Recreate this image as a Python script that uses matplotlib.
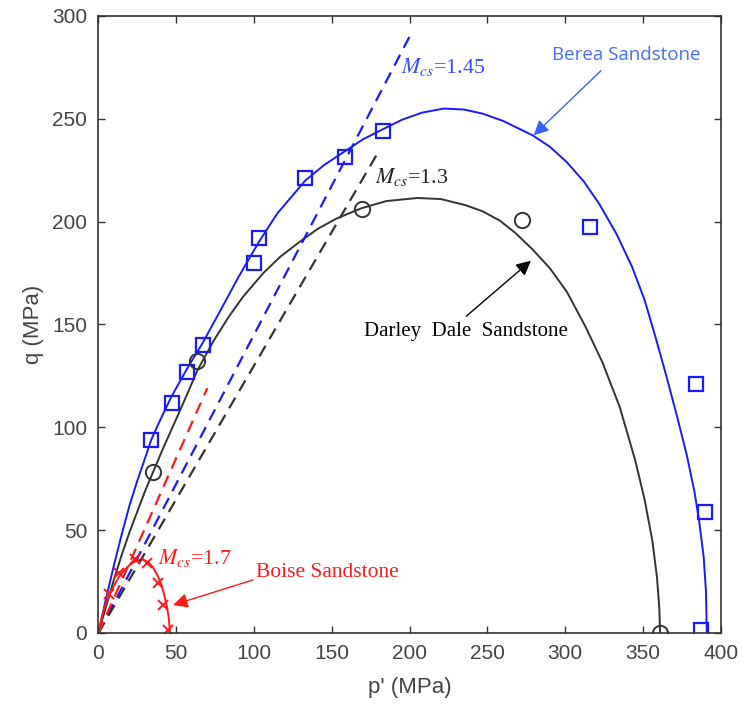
import matplotlib.pyplot as plt

plt.rcParams['mathtext.fontset'] = 'stix'

# test data (p', q) in MPa
berea_p = [34, 47, 57, 67, 100, 103, 133, 158.5, 183, 316, 384, 390, 387]
berea_q = [94, 112, 127, 140, 180, 192, 221, 231.5, 244, 197.5, 121, 59, 1.5]
darley_p = [35, 63.5, 169.5, 272, 361]
darley_q = [78.5, 132, 206, 201, 0]
boise_p = [7, 13, 23.5, 31, 38.5, 41.7, 44.5]
boise_q = [19, 29, 35.8, 34.2, 24.5, 13.5, 1.5]

# fitted yield surfaces
berea_fit_p = [0, 5, 10, 15, 20, 25, 30, 34, 40, 47, 57, 67, 80, 90, 103, 115, 133,
               145, 158, 170, 183, 195, 208, 222, 235, 247, 260, 279, 290, 301, 312,
               322, 333, 343, 351, 358, 365, 372, 378, 383, 386, 389, 390.5, 391]
berea_fit_q = [0, 17, 33, 48, 62, 74, 85, 94, 104, 115, 128.5, 141, 159, 173, 190, 204, 220,
               227.5, 234, 240, 245, 249.5, 253, 255, 254.5, 252.5, 249, 242, 236.5, 229, 219.5,
               208.5, 194, 178, 162, 144, 125, 105, 87, 69, 55, 37, 20, 0]
darley_fit_p = [0, 5, 10, 15, 20, 25, 30, 35, 42, 50, 57, 63.5, 74, 84, 93, 106, 117, 129,
                141, 153, 169, 185, 205, 220, 236, 247, 258, 268, 279, 290, 301, 313, 324,
                335, 340, 345, 351, 356, 359, 360.5, 361]
darley_fit_q = [0, 13, 26, 38, 49, 59, 69, 78, 90.5, 104, 116, 127.5, 142, 154, 163.5, 175, 183, 190,
                196.5, 201.5, 206.5, 210, 211.5, 211, 208, 205, 200.5, 194.5, 186.5, 177.5, 166, 149, 131.5,
                110, 97, 84, 65, 45, 27, 12, 0]
boise_fit_p = [0, 2, 4, 7, 10, 13, 16, 20, 24, 28, 32, 35, 38, 40, 42, 44, 45.3, 46]
boise_fit_q = [0, 7, 12.5, 18.5, 23, 27, 30, 33, 35, 35.8, 34.5, 32, 28, 24.5, 19.5, 13, 7, 0]

# critical state lines q = M p'
m_berea, m_darley, m_boise = 1.45, 1.3, 1.7
csl_berea_p = [0, 200]
csl_darley_p = [0, 181]
csl_boise_p = [0, 70]

blue = '#1a1aff'
red = '#ff1a1a'
dark = '#333333'

fig = plt.figure(figsize=(7.42, 7.17), dpi=100)
ax = fig.add_axes([0.1326, 0.1172, 0.8388, 0.8605])

line_kw = dict(lw=1.4, solid_joinstyle='round', solid_capstyle='round')
ax.plot(berea_fit_p, berea_fit_q, color=blue, **line_kw)
ax.plot(darley_fit_p, darley_fit_q, color=dark, **line_kw)
ax.plot(boise_fit_p, boise_fit_q, color=red, **line_kw)

ax.plot(csl_berea_p, [m_berea * p for p in csl_berea_p], color=blue, lw=1.6, dashes=(5.5, 3.5))
ax.plot(csl_darley_p, [m_darley * p for p in csl_darley_p], color=dark, lw=1.6, dashes=(5.5, 3.5))
ax.plot(csl_boise_p, [m_boise * p for p in csl_boise_p], color=red, lw=1.6, dashes=(5.5, 3.5))

ax.plot(berea_p, berea_q, 's', ms=9.5, mfc='none', mec=blue, mew=1.6)
ax.plot(darley_p, darley_q, 'o', ms=11, mfc='none', mec=dark, mew=1.4)
ax.plot(boise_p, boise_q, 'x', ms=7, color=red, mew=1.4)

serif = 'Liberation Serif'
ax.text(194.5, 275, r'$M_{cs}$=1.45', color='#3a4cff', fontsize=15.8, family=serif, va='center')
ax.text(177.5, 221.5, r'$M_{cs}$=1.3', color='#222222', fontsize=15.8, family=serif, va='center')
ax.text(38.5, 36.5, r'$M_{cs}$=1.7', color=red, fontsize=15.8, family=serif, va='center')

ax.text(339, 281, 'Berea Sandstone', color='#4a6cff', fontsize=13.5, family='Open Sans',
        ha='center', va='center')
ax.text(236.5, 146.5, 'Darley  Dale  Sandstone', color='black', fontsize=15, family=serif,
        ha='center', va='center')
ax.text(147, 29.5, 'Boise Sandstone', color=red, fontsize=15.5, family=serif,
        ha='center', va='center')

arrow_kw = dict(arrowstyle='-|>', lw=1.0, mutation_scale=22, shrinkA=0, shrinkB=0)
ax.annotate('', xy=(279.8, 242), xytext=(323, 273.4),
            arrowprops=dict(color='#3a60ff', **arrow_kw))
ax.annotate('', xy=(278, 181), xytext=(236.4, 154),
            arrowprops=dict(color='black', **arrow_kw))
ax.annotate('', xy=(48, 13.6), xytext=(99.4, 25.8),
            arrowprops=dict(color=red, **arrow_kw))

ax.set_xlim(0, 400)
ax.set_ylim(0, 300)
ax.set_xticks(range(0, 401, 50))
ax.set_yticks(range(0, 301, 50))
ax.tick_params(direction='in', length=5, width=1, top=True, right=True,
               labelsize=15, labelcolor='#444444', color='#333333', pad=8)
for s in ax.spines.values():
    s.set_color('#333333')
    s.set_linewidth(1.2)
for lab in ax.get_xticklabels() + ax.get_yticklabels():
    lab.set_family('Liberation Sans')
ax.set_xlabel("p' (MPa)", fontsize=16, color='#444444', family='Liberation Sans', labelpad=10)
ax.set_ylabel('q (MPa)', fontsize=16, color='#444444', family='Liberation Sans', labelpad=6)

fig.savefig('out.png', dpi=100)
